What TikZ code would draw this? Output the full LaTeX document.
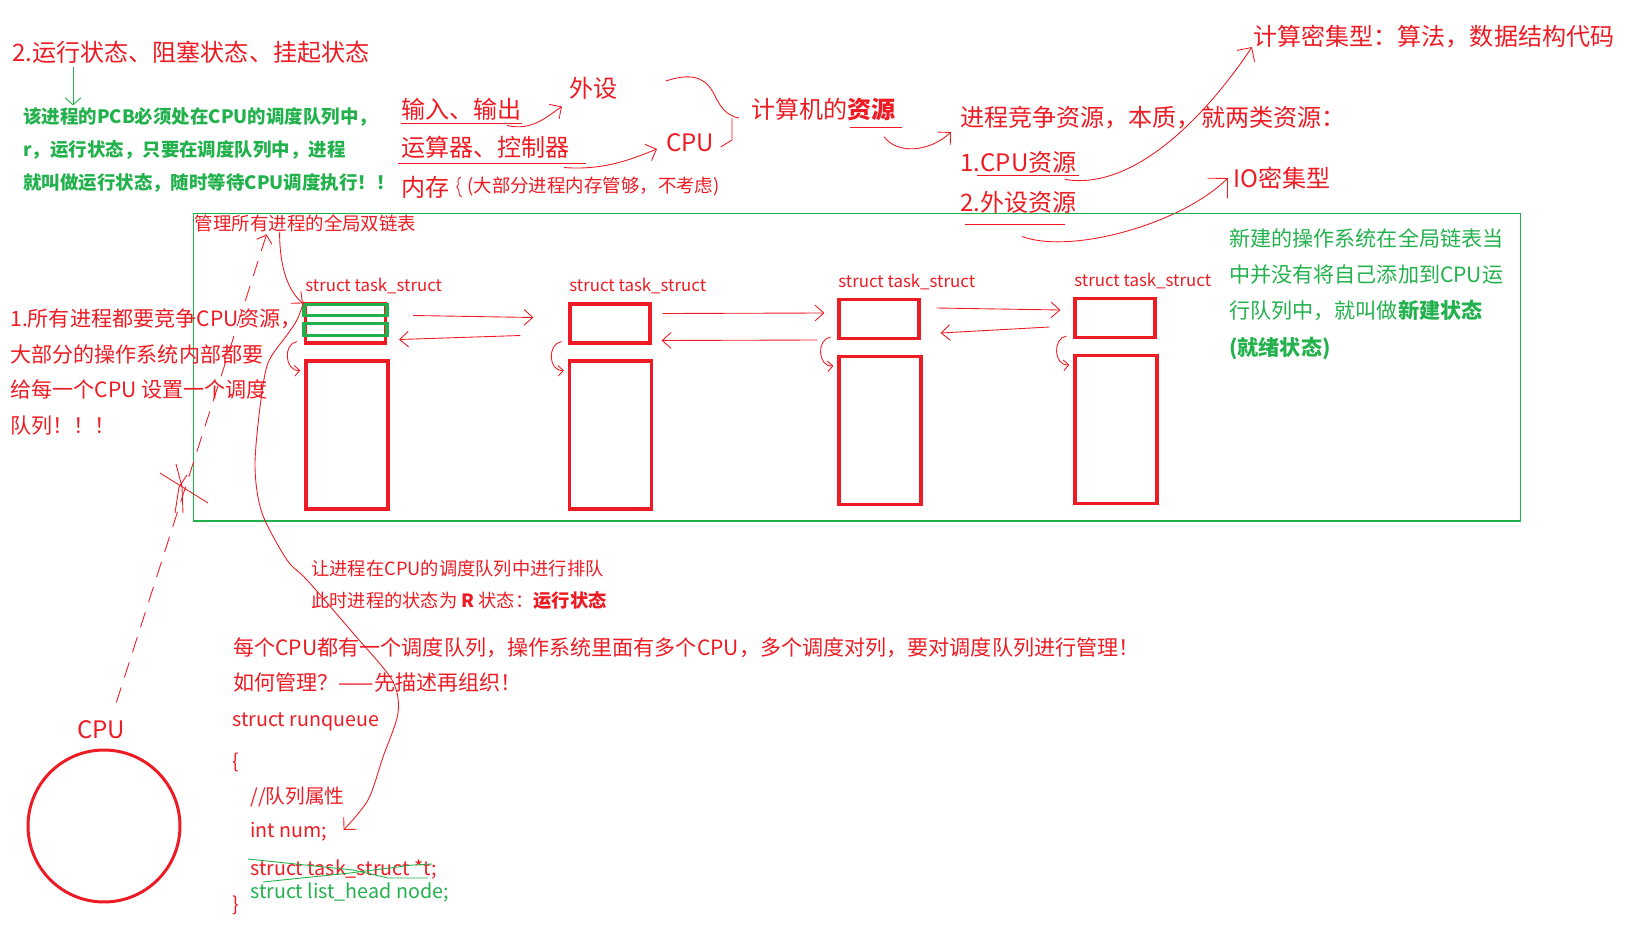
\documentclass[tikz,border=0pt]{standalone}
\usepackage{fontspec}
\setmainfont{Noto Sans CJK SC}
\usepackage{tikz}
\usetikzlibrary{arrows.meta,positioning,calc}
\definecolor{pred}{RGB}{237,28,36}
\definecolor{pgreen}{RGB}{34,177,76}

\begin{document}
\begin{tikzpicture}[x=0.02cm,y=-0.02cm,
  txt/.style={anchor=west,inner sep=0pt,text=pred,font=\fontsize{13.7}{16}\selectfont},
  mid/.style={txt,font=\fontsize{12}{20.4}\selectfont,align=left},
  small/.style={txt,font=\fontsize{10.4}{18.1}\selectfont,align=left},
  lbl/.style={txt,font=\fontsize{9.6}{11}\selectfont},
  code/.style={txt,font=\fontsize{11.2}{13}\selectfont},
  smallbox/.style={draw=pred,line width=1.8pt,minimum width=1.6cm,minimum height=0.78cm,inner sep=0pt},
  bigbox/.style={draw=pred,line width=1.8pt,minimum width=1.64cm,minimum height=2.96cm,inner sep=0pt},
  sk/.style={pred,line width=0.5pt},
  ska/.style={sk,-{Straight Barb[length=5pt,width=10pt]}},
  link/.style={sk,-{Straight Barb[length=5pt,width=9pt]}}]
  \useasboundingbox (0,0) rectangle (1634,933);

  % states
  \node[txt] (states) at (12,52) {2.运行状态、阻塞状态、挂起状态};
  \node[txt,text=pgreen,font=\fontsize{10.5}{18.7}\selectfont\bfseries,align=left] (pcb) at (23,150) {该进程的PCB必须处在CPU的调度队列中，\\r，运行状态，只要在调度队列中，进程\\就叫做运行状态，随时等待CPU调度执行！！};
  \draw[pgreen,line width=0.5pt,-{Straight Barb[length=4pt,width=9pt]}] ($(states.south west)+(61,3)$) -- ($(pcb.north west)+(50,-2)$);

  % resources
  \node[txt] (io) at (401,109) {输入、输出};
  \node[txt] (alu) at (401,147) {运算器、控制器};
  \node[txt] (mem) at (401,187) {内存};
  \node[small,font=\fontsize{10.5}{12}\selectfont] (memnote) at (467,187) {(大部分进程内存管够，不考虑)};
  \node[txt] (periph) at (569,88) {外设};
  \node[txt] (cpu) at (666,143) {CPU};
  \node[txt] (res) at (751,109) {计算机的\textbf{资源}};
  \node[txt] (compete) at (960,118) {进程竞争资源，本质，就两类资源：};
  \node[txt] (cpures) at (960,162) {1.CPU资源};
  \node[txt] (iores) at (960,202) {2.外设资源};
  \node[txt] (calc) at (1253,37) {计算密集型：算法，数据结构代码};
  \node[txt] (iobound) at (1233,178) {IO密集型};

  \draw[sk] ($(io.south west)+(0,3)$) -- ($(io.south east)+(0,3)$);
  \draw[sk] ($(alu.south west)+(-3,5)$) -- ($(alu.south east)+(16,5)$);
  \draw[sk] ($(res.south east)+(-46,7)$) -- ($(res.south east)+(6,7)$);
  \draw[sk] ($(cpures.south west)+(17,2)$) -- ($(cpures.south east)+(2,2)$);
  \draw[sk] ($(iores.south west)+(5,11)$) -- ($(iores.south east)+(-12,11)$);
  \draw[sk] ($(mem.east)+(11,-10)$) .. controls +(-6,2) and +(4,-3) .. ($(mem.east)+(7,0)$) .. controls +(4,3) and +(-5,-2) .. ($(mem.east)+(12,10)$);

  \draw[ska] ($(io.south east)+(-15,5)$) .. controls +(25,6) and +(-15,10) .. ($(periph.south west)+(-7,7)$);
  \draw[ska] ($(alu.south east)+(-6,9)$) .. controls +(40,3) and +(-25,10) .. ($(cpu.west)+(-9,6)$);
  \coordinate (bt) at ($(periph.east)+(48,-7)$);
  \coordinate (btip) at ($(res.west)+(-12,9)$);
  \coordinate (bb) at ($(cpu.east)+(6,4)$);
  \draw[sk] (bt) .. controls +(30,-10) and +(-8,-18) .. (716,98) .. controls +(6,12) and +(-10,-2) .. (btip);
  \draw[sk] ($(btip)+(-7,0)$) -- ++(0,22) -- (bb);
  \draw[ska] ($(res.south east)+(-12,16)$) .. controls +(13,18) and +(-21,20) .. ($(compete.west)+(-9,14)$);
  \draw[sk,-{Straight Barb[length=6pt,width=12pt]}] ($(cpures.south east)+(-12,6)$) .. controls +(72,12) and +(-42,63) .. ($(calc.west)+(-1,10)$);
  \draw[sk,-{Straight Barb[length=8pt,width=16pt]}] ($(iores.south west)+(62,23)$) .. controls +(48,18) and +(-48,47) .. ($(iobound.west)+(-5,0)$);

  % global list
  \node[draw=pgreen,line width=0.6pt,minimum width=26.56cm,minimum height=6.16cm,inner sep=0pt] (glist) at (857,367) {};
  \node[small,anchor=north west,font=\fontsize{10.5}{12}\selectfont] (gtitle) at ($(glist.north west)+(2,2)$) {管理所有进程的全局双链表};

  \node[smallbox] (s1) at (345.5,323.5) {};
  \node[bigbox] (b1) at (347,435) {};
  \node[smallbox] (s2) at (610,323.5) {};
  \node[bigbox] (b2) at (610.5,435) {};
  \node[smallbox] (s3) at (879,319) {};
  \node[bigbox] (b3) at (880,430.5) {};
  \node[smallbox] (s4) at (1115,318) {};
  \node[bigbox] (b4) at (1116,429.5) {};
  \node[lbl] (l1) at (305,286) {struct task\_struct};
  \node[lbl] (l2) at (569,286) {struct task\_struct};
  \node[lbl] (l3) at (838,282) {struct task\_struct};
  \node[lbl] (l4) at (1074,281) {struct task\_struct};
  \draw[pgreen,line width=1.9pt] ($(s1.north west)+(0,2)$) rectangle ($(s1.north east)+(0,13)$);
  \draw[pgreen,line width=1.9pt] ($(s1.north west)+(0,21)$) rectangle ($(s1.north east)+(0,33)$);

  \draw[link] ($(s1.east)+(26,-8)$) -- ($(s2.west)+(-35,-6)$);
  \draw[link] ($(s2.west)+(-48,12)$) -- ($(s1.east)+(12,16)$);
  \draw[link] ($(s2.east)+(11,-10)$) -- ($(s3.west)+(-13,-6)$);
  \draw[link] ($(s3.west)+(-20,21)$) -- ($(s2.east)+(10,17)$);
  \draw[link] ($(s3.east)+(16,-11)$) -- ($(s4.west)+(-13,-8)$);
  \draw[link] ($(s4.west)+(-24,9)$) -- ($(s3.east)+(20,14)$);
  \foreach \s/\b in {s1/b1,s2/b2,s3/b3,s4/b4}
    \draw[sk,-{Straight Barb[length=3pt,width=6pt]}] ($(\s.south west)+(-7,-3)$) .. controls +(-14,2) and +(-16,1) .. ($(\b.north west)+(-4,11)$);

  % notes
  \node[mid] (rq1) at (10,372) {1.所有进程都要竞争CPU资源，\\大部分的操作系统内部都要\\给每一个CPU 设置一个调度\\队列！！！};
  \node[txt,text=pgreen,align=left,font=\fontsize{12}{20.6}\selectfont] (newst) at (1229,294) {新建的操作系统在全局链表当\\中并没有将自己添加到CPU运\\行队列中，就叫做\textbf{新建状态}\\\textbf{(就绪状态)}};
  \node[small] (queue) at (311,585) {让进程在CPU的调度队列中进行排队\\此时进程的状态为 \textbf{R} 状态：\textbf{运行状态}};
  \node[txt,align=left,font=\fontsize{12}{20.4}\selectfont] (each) at (233,665) {每个CPU都有一个调度队列，操作系统里面有多个CPU，多个调度对列，要对调度队列进行管理！\\如何管理？——先描述再组织！};

  % cpu and runqueue
  \node[txt] (cpuL) at (77,730) {CPU};
  \node[draw=pred,line width=1.7pt,circle,minimum size=3.04cm,inner sep=0pt] (cpuc) at (104,826) {};
  \node[code] (rq) at (232,722) {struct runqueue};
  \node[code] (lb) at (232,762) {\{};
  \node[code] (attr) at (250,797) {//队列属性};
  \node[code] (num) at (250,832) {int num;};
  \node[code] (tp) at (250,870) {struct task\_struct *t;};
  \node[code,text=pgreen] (lh) at (250,893) {struct list\_head node;};
  \node[code] (rb) at (232,905) {\}};
  \draw[pgreen,line width=0.5pt] (248,859) -- (353,870) -- (388,878) -- (428,878);
  \draw[pgreen,line width=0.5pt] (263,882) -- (350,873) -- (413,865) -- (432,864);

  % sketch lines
  \draw[sk,dash pattern=on 9pt off 6pt,-{Straight Barb[length=4pt,width=9pt]}] ($(cpuL.north)+(15,-18)$) -- ($(gtitle.south west)+(72,2)$);
  \draw[sk] (160,473) -- (208,503);
  \draw[sk] (176,464) -- (182,487) -- (183,513);
  \draw[sk] (187,475) -- (179,487) -- (175,513);
  \draw[sk,-{Straight Barb[length=5pt,width=9pt]}] ($(gtitle.south west)+(85,0)$) .. controls +(0,37) and +(-14,-12) .. ($(s1.north west)+(-1,1)$);
  \coordinate (ls) at ($(s1.north west)+(0,-1)$);
  \coordinate (le) at ($(num.east)+(16,-2)$);
  \draw[sk,-{Straight Barb[length=5pt,width=10pt]}] plot[smooth] coordinates {(ls) (297,320) (287,335) (268,363) (260,407) (255,467) (262,513) (287,560) (307,580) (353,633) (392,680) (398,713) (383,757) (368,800) (le)};
\end{tikzpicture}
\end{document}
